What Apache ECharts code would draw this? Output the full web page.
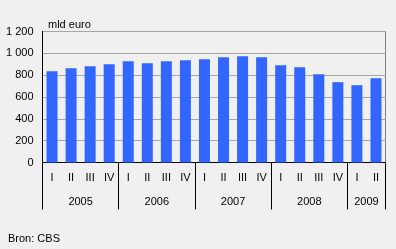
<!DOCTYPE html>
<html><head><meta charset="utf-8">
<script src="https://cdn.jsdelivr.net/npm/echarts@6/dist/echarts.min.js"></script>
<style>html,body{margin:0;padding:0;background:#f0f0f0}#c{width:396px;height:249px}</style>
</head><body><div id="c"></div>
<script>
var quarters = ['I','II','III','IV','I','II','III','IV','I','II','III','IV','I','II','III','IV','I','II'];
var values = [836, 864, 882, 900, 928, 910, 928, 937, 946, 965, 974, 965, 891, 873, 809, 736, 708, 772];
var years = ['2005','2006','2007','2008','2009'];
var yearCenters = [2, 6, 10, 14, 17];
var yearBounds = [0, 4, 8, 12, 16, 18];
var yTicks = [0, 200, 400, 600, 800, 1000, 1200];

var font = 'Arial, "Liberation Sans", sans-serif';
var chart = echarts.init(document.getElementById('c'), null, {renderer:'canvas'});
chart.setOption({
  backgroundColor: '#f0f0f0',
  animation: false,
  title: [
    {text: 'mld euro', left: 43, top: 14, textStyle: {fontFamily: font, fontSize: 11, fontWeight: 'normal', color: '#000'}},
    {text: 'Bron: CBS', left: 3, top: 228, textStyle: {fontFamily: font, fontSize: 11, fontWeight: 'normal', color: '#000'}}
  ],
  grid: {left: 42.5, right: 10.5, top: 31.5, bottom: 86.5, show: true, borderColor: '#808080', borderWidth: 1, backgroundColor: 'transparent'},
  xAxis: [
    {type: 'category', data: quarters, position: 'bottom',
     axisLine: {show: true, lineStyle: {color: '#000', width: 1}},
     axisTick: {show: false},
     axisLabel: {interval: 0, margin: 10, fontFamily: font, fontSize: 11, color: '#000'},
     splitLine: {show: false}},
    {type: 'value', min: 0, max: 18, position: 'bottom',
     axisLine: {show: false},
     axisTick: {show: true, customValues: yearBounds, length: 47, lineStyle: {color: '#000', width: 1}},
     axisLabel: {customValues: yearCenters, margin: 34, fontFamily: font, fontSize: 11, color: '#000',
       formatter: function (v) { var i = yearCenters.indexOf(v); return i >= 0 ? years[i] : ''; }},
     splitLine: {show: false}}
  ],
  yAxis: {type: 'value', min: 0, max: 1200, interval: 200,
    axisLine: {show: true, lineStyle: {color: '#000', width: 1}},
    axisTick: {show: false},
    axisLabel: {margin: 9, fontFamily: font, fontSize: 11, color: '#000',
      formatter: function (v) { return String(v).replace(/\B(?=(\d{3})+(?!\d))/g, ' '); }},
    splitLine: {show: true, lineStyle: {color: '#a6a6a6', width: 1}}
  },
  series: [{type: 'bar', data: values, xAxisIndex: 0, barWidth: 11, itemStyle: {color: '#3366ff'}}]
});
</script></body></html>
